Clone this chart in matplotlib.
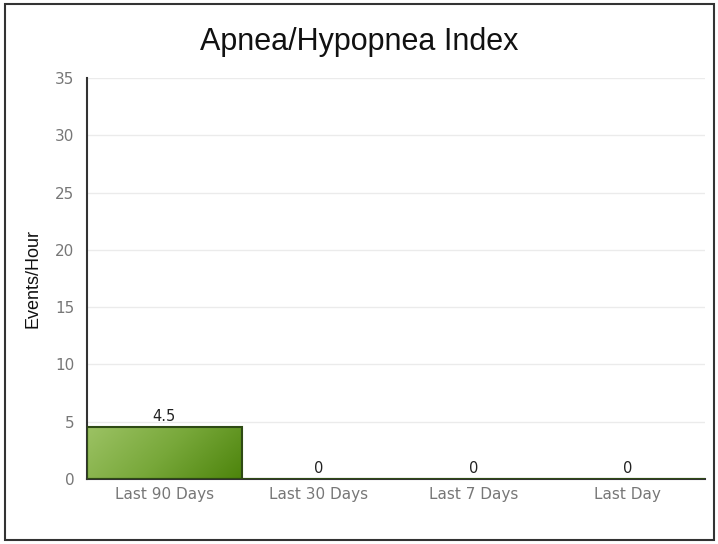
import matplotlib
matplotlib.use("Agg")
import matplotlib.pyplot as plt
import numpy as np
from matplotlib.colors import LinearSegmentedColormap
from matplotlib.patches import Rectangle

categories = ["Last 90 Days", "Last 30 Days", "Last 7 Days", "Last Day"]
values = [4.5, 0, 0, 0]
yticks = [0, 5, 10, 15, 20, 25, 30, 35]

fig = plt.figure(figsize=(7.18, 5.44), dpi=100)
fig.patch.set_facecolor("white")
ax = fig.add_axes([87/718, 1-479/544, (705-87)/718, (479-78)/544])

x = np.arange(len(categories))
bars = ax.bar(x, values, width=1.0, color="none", edgecolor="#2e4a14", linewidth=1.5, zorder=3)

cmap = LinearSegmentedColormap.from_list("g", ["#9cc264", "#78a83a", "#4d840c"])
grad = np.add.outer(np.linspace(0, 0.25, 50), np.linspace(0, 0.75, 100))
for b, v in zip(bars, values):
    if v <= 0:
        continue
    x0, w = b.get_x(), b.get_width()
    im = ax.imshow(grad, cmap=cmap, extent=[x0, x0 + w, 0, v], origin="upper",
                   aspect="auto", zorder=2, interpolation="bicubic")
    im.set_clip_path(b)

for xi, v in zip(x, values):
    ax.text(xi, v + 0.3, f"{v:g}", ha="center", va="bottom", fontsize=10.5, color="#222222",
            zorder=4, family="DejaVu Sans")

ax.set_xlim(-0.5, len(categories) - 0.5)
ax.set_ylim(0, 35)
ax.set_yticks(yticks)
ax.set_xticks(x)
ax.set_xticklabels(categories, family="DejaVu Sans")
for t in ax.get_yticklabels():
    t.set_family("DejaVu Sans")
ax.tick_params(axis="both", length=0, colors="#777777", labelsize=11, pad=6)
ax.tick_params(axis="y", pad=9)
ax.grid(axis="y", color="#ebebeb", linewidth=1, zorder=0)
ax.set_axisbelow(True)
for s in ["top", "right"]:
    ax.spines[s].set_visible(False)
ax.spines["left"].set_color("#333333")
ax.spines["bottom"].set_color("#333333")
ax.spines["left"].set_linewidth(1.5)
ax.spines["bottom"].set_linewidth(1.5)

ax.set_ylabel("Events/Hour", fontsize=13, color="#111111", labelpad=10,
              family=["Liberation Sans", "DejaVu Sans"])
fig.text(0.5, 1 - 42/544, "Apnea/Hypopnea Index", ha="center", va="center", fontsize=22,
         color="#111111", family=["Liberation Sans", "DejaVu Sans"])

fig.patches.append(Rectangle((5/718, 4/544), 709/718, 536/544, transform=fig.transFigure,
                             fill=False, edgecolor="#333333", linewidth=1.5))

fig.savefig("out.png", dpi=100)
